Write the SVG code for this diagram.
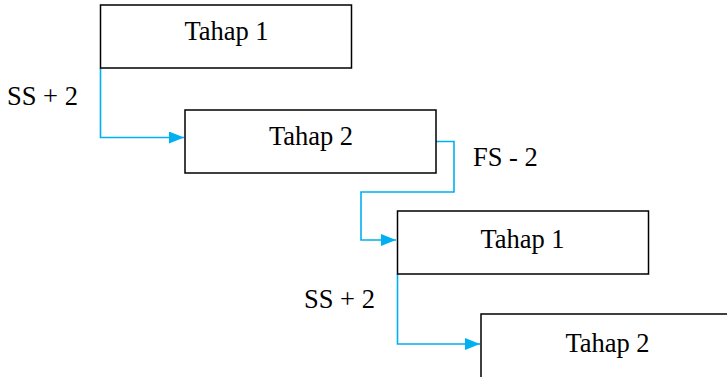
<svg xmlns="http://www.w3.org/2000/svg" width="727" height="377" viewBox="0 0 727 377">
  <style>
    .box { fill: #ffffff; stroke: #000000; stroke-width: 1.5; }
    .lbl { font-family: 'Liberation Serif', 'DejaVu Serif', 'Times New Roman', serif; font-size: 26.5px; fill: #000000; }
    .mid { text-anchor: middle; }
    .link { fill: none; stroke: #00B0F0; stroke-width: 1.6; marker-end: url(#arrow); }
  </style>
  <defs>
    <marker id="arrow" viewBox="0 0 15 12" refX="15" refY="6" markerWidth="15" markerHeight="12" markerUnits="userSpaceOnUse" orient="auto">
      <path d="M0,0 L15,6 L0,12 z" fill="#00B0F0"/>
    </marker>
  </defs>
  <rect width="727" height="377" fill="#ffffff"/>

  <g id="connectors">
    <path class="link" d="M100.5,68 V137.5 H184"/>
    <path class="link" d="M436,141.5 H454 V192 H361 V240 H396"/>
    <path class="link" d="M397.5,274 V344 H480"/>
  </g>

  <g id="tahap1-a">
    <rect class="box" x="100.5" y="5" width="251" height="63"/>
    <text class="lbl mid" x="226.5" y="40">Tahap 1</text>
  </g>
  <g id="tahap2-a">
    <rect class="box" x="185" y="110" width="251" height="63"/>
    <text class="lbl mid" x="311" y="145">Tahap 2</text>
  </g>
  <g id="tahap1-b">
    <rect class="box" x="397.5" y="211" width="251" height="63"/>
    <text class="lbl mid" x="522.5" y="248">Tahap 1</text>
  </g>
  <g id="tahap2-b">
    <rect class="box" x="481" y="314" width="260" height="70"/>
    <text class="lbl mid" x="607.5" y="352">Tahap 2</text>
  </g>

  <g id="labels">
    <text class="lbl" x="7" y="105">SS + 2</text>
    <text class="lbl" x="473" y="166">FS - 2</text>
    <text class="lbl" x="304" y="308">SS + 2</text>
  </g>
</svg>
